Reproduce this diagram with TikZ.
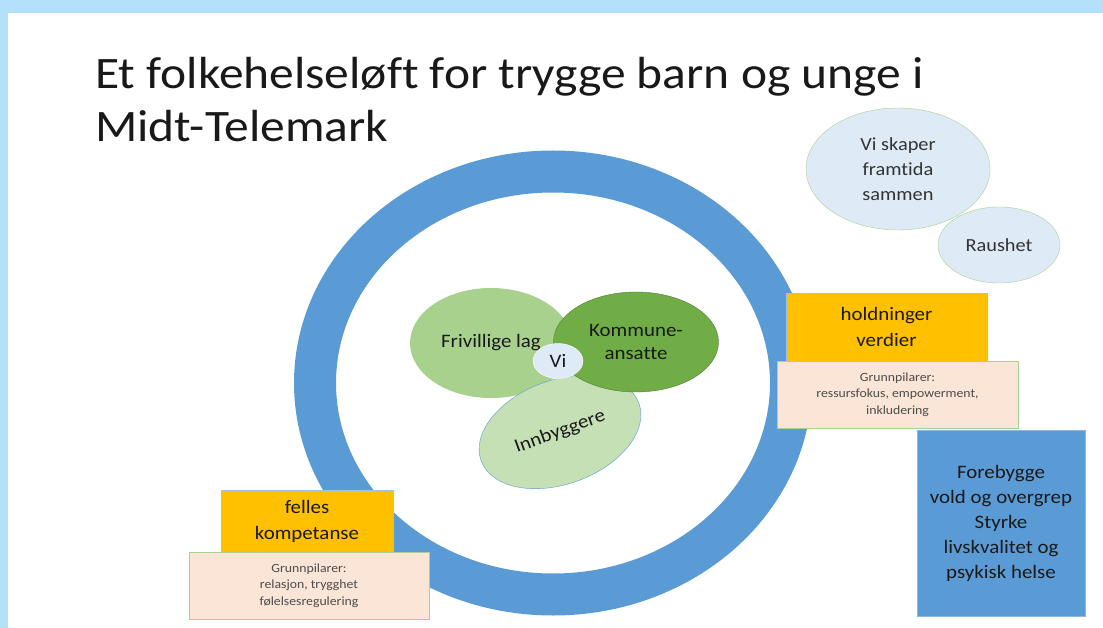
\documentclass[tikz,border=0pt]{standalone}
\usepackage{fontspec}
\setmainfont{Carlito}[FakeStretch=1.1, Ligatures=NoCommon]
\usetikzlibrary{shapes.geometric}
\definecolor{framebg}{HTML}{B3E1FB}
\definecolor{ringblue}{HTML}{5B9BD5}
\definecolor{gold}{HTML}{FFC000}
\definecolor{peach}{HTML}{FBE5D6}
\definecolor{lightgreen}{HTML}{A9D18E}
\definecolor{midgreen}{HTML}{70AD47}
\definecolor{darkgreen}{HTML}{507E32}
\definecolor{palegreen}{HTML}{C5E0B4}
\definecolor{paleblue}{HTML}{DEEBF7}
\tikzstyle{ring} = [ellipse, draw=ringblue, line width=42pt, minimum width=476pt, minimum height=423pt]
\tikzstyle{value} = [rectangle, draw=ringblue!60, fill=gold, text=black!90, align=center, inner sep=0, font=\fontsize{19}{26}\selectfont]
\tikzstyle{pillar} = [rectangle, draw=lightgreen, fill=peach, text=black!70, align=center, inner sep=0, font=\fontsize{12.5}{16.5}\selectfont]
\tikzstyle{goal} = [rectangle, draw=ringblue!70!white, fill=ringblue, text=black!90, align=center, inner sep=0, font=\fontsize{19}{25}\selectfont]
\tikzstyle{bubble} = [ellipse, draw=lightgreen, fill=paleblue, text=black!80, align=center, inner sep=0, font=\fontsize{18.5}{25}\selectfont]
\tikzstyle{member} = [ellipse, inner sep=0, text=black!90, align=center, font=\fontsize{19}{23}\selectfont]

\begin{document}
\begin{tikzpicture}[x=1pt, y=-1pt]

\fill[framebg] (0,0) rectangle (1103,628);
\fill[white] (8,13) rectangle (1103,628);
\useasboundingbox (0,0) rectangle (1103,628);

\node (title) [anchor=north west, align=left, inner sep=0, text=black!90, font=\fontsize{45}{53}\selectfont] at (95,57) {Et folkehelseløft for trygge barn og unge i\\Midt-Telemark};

\node (ring) [ring] at (553,383) {};

\node (holdninger) [value, minimum width=201pt, minimum height=68pt] at (886.5,327) {holdninger\\verdier};
\node (pilar1) [pillar, minimum width=241pt, minimum height=67pt] at (897.5,394.5) {Grunnpilarer:\\ressursfokus, empowerment,\\inkludering};
\node (kompetanse) [value, minimum width=172pt, minimum height=62pt] at (307,521) {felles\\kompetanse};
\node (pilar2) [pillar, minimum width=240pt, minimum height=67pt] at (309,585.5) {Grunnpilarer:\\relasjon, trygghet\\følelsesregulering};
\node (forebygge) [goal, minimum width=168pt, minimum height=186pt] at (1001,523) {Forebygge\\vold og overgrep\\Styrke\\livskvalitet og\\psykisk helse};

\node (framtida) [bubble, minimum width=184pt, minimum height=122pt] at (898,169) {Vi skaper\\framtida\\sammen};
\node (raushet) [bubble, minimum width=122pt, minimum height=76pt] at (999,245) {Raushet};

\node (frivillige) [member, fill=lightgreen, minimum width=162pt, minimum height=110pt] at (491,343) {Frivillige lag};
\node (innbyggere) [member, fill=palegreen, draw=ringblue, rotate=20, minimum width=168pt, minimum height=104pt] at (560,432) {Innbyggere};
\node (kommune) [member, fill=midgreen, draw=darkgreen, minimum width=165pt, minimum height=100pt] at (636,342) {Kommune-\\ansatte};
\node (vi) [member, fill=paleblue, draw=white, minimum width=50pt, minimum height=35pt] at (558,361) {Vi};

\end{tikzpicture}
\end{document}
